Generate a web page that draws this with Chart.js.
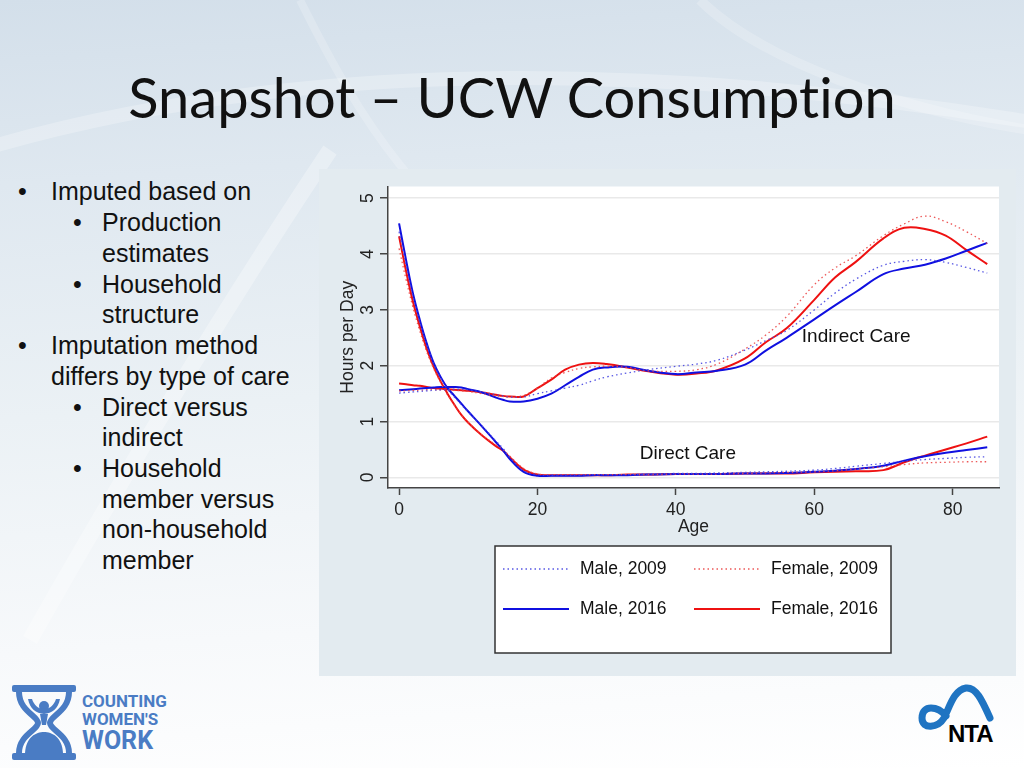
<!DOCTYPE html>
<html>
<head>
<meta charset="utf-8">
<script src="https://cdn.jsdelivr.net/npm/chart.js@4.4.0/dist/chart.umd.min.js"></script>
<style>
  html, body { margin: 0; padding: 0; }
  body {
    width: 1024px; height: 768px; position: relative; overflow: hidden;
    font-family: "Liberation Sans", Arial, sans-serif;
    background: linear-gradient(176deg, #d3dfea 0%, #dfe8f0 22%, #ebf1f5 50%, #f7f9fb 78%, #ffffff 100%);
  }
  #deco { position: absolute; left: 0; top: 0; }
  #title {
    position: absolute; left: 0; top: 63px; width: 1024px; text-align: center;
    font-family: Lato, "Open Sans", sans-serif; font-size: 56px; color: #111;
    line-height: 68px; font-variant-ligatures: none;
  }
  .ln { position: absolute; font-size: 25px; line-height: 31px; color: #111; white-space: nowrap; }
  .b { position: absolute; font-size: 25px; line-height: 31px; color: #111; }
  #panel { position: absolute; left: 319px; top: 169px; width: 697px; height: 507px; background: #e3ebf0; }
  #cww { position: absolute; left: 12px; top: 685px; }
  #cwwText {
    position: absolute; left: 82px; top: 692px; color: #4a7cc4; font-weight: bold;
    font-family: "Liberation Sans Narrow", "Roboto", sans-serif; line-height: 18px; font-size: 17px;
  }
  #nta { position: absolute; left: 916px; top: 682px; }
</style>
</head>
<body>
<svg id="deco" width="1024" height="768">
  <path d="M-20 150 C 250 70, 600 50, 1050 125" stroke="rgba(255,255,255,0.25)" stroke-width="14" fill="none"/>
  <path d="M300 0 C 360 120, 420 220, 560 300" stroke="rgba(255,255,255,0.2)" stroke-width="8" fill="none"/>
  <path d="M30 640 C 120 480, 230 300, 330 150" stroke="rgba(255,255,255,0.3)" stroke-width="16" fill="none"/>
  <path d="M700 0 C 760 60, 900 110, 1030 130" stroke="rgba(255,255,255,0.2)" stroke-width="10" fill="none"/>
</svg>

<div id="title">Snapshot – UCW Consumption</div>

<div class="b" style="left:18px; top:176px;">•</div><div class="ln" style="left:51px; top:176px;">Imputed based on</div>
<div class="b" style="left:73px; top:207px;">•</div><div class="ln" style="left:102px; top:207px;">Production</div>
<div class="ln" style="left:102px; top:238px;">estimates</div>
<div class="b" style="left:73px; top:269px;">•</div><div class="ln" style="left:102px; top:269px;">Household</div>
<div class="ln" style="left:102px; top:299px;">structure</div>
<div class="b" style="left:18px; top:330px;">•</div><div class="ln" style="left:51px; top:330px;">Imputation method</div>
<div class="ln" style="left:51px; top:361px;">differs by type of care</div>
<div class="b" style="left:73px; top:392px;">•</div><div class="ln" style="left:102px; top:392px;">Direct versus</div>
<div class="ln" style="left:102px; top:422px;">indirect</div>
<div class="b" style="left:73px; top:453px;">•</div><div class="ln" style="left:102px; top:453px;">Household</div>
<div class="ln" style="left:102px; top:484px;">member versus</div>
<div class="ln" style="left:102px; top:514px;">non-household</div>
<div class="ln" style="left:102px; top:545px;">member</div>

<div id="panel"><canvas id="ucw-chart" width="697" height="507"></canvas></div>

<svg id="cww" width="66" height="76" viewBox="0 0 66 76">
  <rect x="0" y="0" width="64" height="7" rx="2" fill="#4a7cc4"/>
  <rect x="0" y="68" width="64" height="7" rx="2" fill="#4a7cc4"/>
  <path d="M7 7 C7 26, 26 31, 26 38 C26 45, 7 50, 7 68" stroke="#4a7cc4" stroke-width="6" fill="none"/>
  <path d="M57 7 C57 26, 38 31, 38 38 C38 45, 57 50, 57 68" stroke="#4a7cc4" stroke-width="6" fill="none"/>
  <path d="M13 68 C14 52, 24 47, 32 47 C40 47, 50 52, 51 68 Z" fill="#4a7cc4"/>
  <circle cx="32" cy="21" r="5" fill="#4a7cc4"/>
  <path d="M16 14 C18 24, 24 28, 32 29 C40 28, 46 24, 48 14 L44 14 C42 20, 38 24, 32 24 C26 24, 22 20, 20 14 Z" fill="#4a7cc4"/>
  <path d="M28 29 L36 29 L34 40 L30 40 Z" fill="#4a7cc4"/>
</svg>
<div id="cwwText">COUNTING<br>WOMEN'S<br><span style="font-size:25px; line-height:26px;">WORK</span></div>

<svg id="nta" width="86" height="66" viewBox="0 0 86 66">
  <path d="M30 34 C22 24, 6 22, 6 36 C6 48, 22 46, 28 36 C34 24, 38 8, 50 6 C60 5, 66 18, 74 36"
        stroke="#1f74c2" stroke-width="7" fill="none" stroke-linecap="round"/>
  <text x="32" y="60" font-family="Liberation Sans, Arial" font-weight="bold" font-size="24" fill="#000" letter-spacing="-1">NTA</text>
</svg>

<script>
const ages = [0, 1, 2, 3, 4, 5, 6, 7, 8, 9, 10, 12, 14, 15, 16, 18, 20, 22, 24, 26, 28, 30, 33, 36, 40, 43, 46, 50, 53, 56, 60, 63, 66, 70, 73, 76, 79, 82, 85];

// direct care, hours per day
const maleDirect2009 = [4.4, 3.8, 3.25, 2.78, 2.38, 2.03, 1.78, 1.58, 1.44, 1.3, 1.17, 0.92, 0.65, 0.52, 0.36, 0.12, 0.05, 0.04, 0.04, 0.04, 0.05, 0.05, 0.05, 0.06, 0.07, 0.07, 0.08, 0.09, 0.1, 0.11, 0.13, 0.16, 0.2, 0.25, 0.29, 0.32, 0.34, 0.36, 0.37];
const femaleDirect2009 = [4.1, 3.55, 3.05, 2.62, 2.25, 1.95, 1.7, 1.48, 1.29, 1.12, 0.98, 0.76, 0.58, 0.5, 0.38, 0.16, 0.06, 0.05, 0.05, 0.05, 0.05, 0.05, 0.05, 0.05, 0.06, 0.06, 0.06, 0.07, 0.08, 0.09, 0.1, 0.12, 0.15, 0.19, 0.23, 0.26, 0.27, 0.28, 0.28];
const maleDirect2016 = [4.55, 3.9, 3.3, 2.82, 2.4, 2.05, 1.8, 1.6, 1.46, 1.32, 1.18, 0.91, 0.63, 0.49, 0.33, 0.1, 0.03, 0.03, 0.03, 0.03, 0.04, 0.04, 0.04, 0.05, 0.06, 0.06, 0.06, 0.07, 0.07, 0.08, 0.1, 0.12, 0.15, 0.21, 0.3, 0.38, 0.44, 0.49, 0.54];
const femaleDirect2016 = [4.32, 3.7, 3.15, 2.7, 2.3, 1.98, 1.72, 1.5, 1.3, 1.12, 0.98, 0.75, 0.56, 0.48, 0.36, 0.14, 0.05, 0.04, 0.04, 0.04, 0.04, 0.04, 0.05, 0.05, 0.06, 0.06, 0.06, 0.07, 0.07, 0.07, 0.09, 0.1, 0.11, 0.13, 0.27, 0.39, 0.5, 0.61, 0.73];

// indirect care, hours per day
const maleIndirect2009 = [1.51, 1.52, 1.53, 1.54, 1.55, 1.56, 1.57, 1.57, 1.58, 1.58, 1.57, 1.53, 1.48, 1.46, 1.44, 1.44, 1.5, 1.55, 1.6, 1.65, 1.73, 1.8, 1.87, 1.93, 1.99, 2.03, 2.1, 2.28, 2.45, 2.63, 3.0, 3.3, 3.55, 3.8, 3.87, 3.9, 3.85, 3.76, 3.66];
const femaleIndirect2009 = [1.55, 1.55, 1.56, 1.56, 1.57, 1.57, 1.57, 1.57, 1.56, 1.55, 1.54, 1.5, 1.46, 1.45, 1.44, 1.47, 1.6, 1.78, 1.88, 1.95, 1.98, 1.99, 1.97, 1.91, 1.9, 1.93, 2.03, 2.3, 2.55, 2.88, 3.45, 3.75, 3.97, 4.33, 4.54, 4.68, 4.58, 4.4, 4.19];
const maleIndirect2016 = [1.56, 1.57, 1.58, 1.59, 1.6, 1.61, 1.62, 1.62, 1.62, 1.61, 1.58, 1.52, 1.43, 1.39, 1.36, 1.36, 1.41, 1.5, 1.65, 1.8, 1.93, 1.97, 1.98, 1.91, 1.85, 1.88, 1.91, 2.02, 2.27, 2.5, 2.83, 3.08, 3.32, 3.64, 3.74, 3.81, 3.92, 4.06, 4.2];
const femaleIndirect2016 = [1.68, 1.67, 1.65, 1.64, 1.62, 1.6, 1.59, 1.58, 1.57, 1.56, 1.55, 1.52, 1.48, 1.46, 1.45, 1.45, 1.6, 1.75, 1.93, 2.02, 2.05, 2.03, 1.97, 1.9, 1.84, 1.86, 1.92, 2.13, 2.42, 2.67, 3.18, 3.58, 3.86, 4.28, 4.47, 4.45, 4.33, 4.07, 3.82];

const xTicks = [0, 20, 40, 60, 80];
const yTicks = [0, 1, 2, 3, 4, 5];

const seriesNames = ['Male, 2009', 'Female, 2009', 'Male, 2016', 'Female, 2016'];
const careLabels = ['Indirect Care', 'Direct Care'];
const careLabelAge = [58.2, 34.8];
const careLabelHours = [2.51, 0.42];

const FONT = '"Liberation Sans", Arial, sans-serif';

const lineStyle = {
    'Male, 2009': { color: 'rgba(70, 70, 225, 0.9)', width: 1.3, dash: [1.5, 3] },
    'Female, 2009': { color: 'rgba(235, 70, 70, 0.9)', width: 1.3, dash: [1.5, 3] },
    'Male, 2016': { color: '#1010e0', width: 2, dash: [] },
    'Female, 2016': { color: '#ee1111', width: 2, dash: [] }
};

function toPoints(values) {
    return ages.map((a, i) => ({ x: a, y: values[i] }));
}

function makeDataset(name, values) {
    const s = lineStyle[name];
    return {
        label: name,
        data: toPoints(values),
        borderColor: s.color,
        backgroundColor: s.color,
        borderWidth: s.width,
        borderDash: s.dash,
        pointRadius: 0,
        tension: 0.4,
        fill: false
    };
}

const datasets = [
    makeDataset('Male, 2009', maleDirect2009),
    makeDataset('Male, 2009', maleIndirect2009),
    makeDataset('Female, 2009', femaleDirect2009),
    makeDataset('Female, 2009', femaleIndirect2009),
    makeDataset('Male, 2016', maleDirect2016),
    makeDataset('Male, 2016', maleIndirect2016),
    makeDataset('Female, 2016', femaleDirect2016),
    makeDataset('Female, 2016', femaleIndirect2016)
];

// white plot region
const plotBackground = {
    id: 'plotBackground',
    beforeDraw(chart) {
        const { ctx, chartArea } = chart;
        ctx.save();
        ctx.fillStyle = '#ffffff';
        ctx.fillRect(chartArea.left, chartArea.top, chartArea.width, chartArea.height);
        ctx.restore();
    }
};

// "Indirect Care" / "Direct Care" labels placed in data units
const careText = {
    id: 'careText',
    afterDatasetsDraw(chart) {
        const { ctx, scales } = chart;
        ctx.save();
        ctx.font = '19px ' + FONT;
        ctx.fillStyle = '#111';
        ctx.textAlign = 'left';
        ctx.textBaseline = 'middle';
        careLabels.forEach((text, i) => {
            ctx.fillText(text, scales.x.getPixelForValue(careLabelAge[i]), scales.y.getPixelForValue(careLabelHours[i]));
        });
        ctx.restore();
    }
};

// boxed two-column legend under the plot, like the Stata one
const boxLegend = {
    id: 'boxLegend',
    afterDraw(chart) {
        const { ctx } = chart;
        const box = { left: 176, top: 377, width: 396, height: 107 };
        const rows = [400, 440];
        const cols = [{ line: 184, text: 261 }, { line: 375, text: 452 }];
        ctx.save();
        ctx.fillStyle = '#ffffff';
        ctx.fillRect(box.left, box.top, box.width, box.height);
        ctx.strokeStyle = '#333';
        ctx.lineWidth = 1.5;
        ctx.strokeRect(box.left, box.top, box.width, box.height);
        ctx.font = '17.5px ' + FONT;
        ctx.textBaseline = 'middle';
        ctx.textAlign = 'left';
        seriesNames.forEach((name, i) => {
            const ds = chart.data.datasets.find(d => d.label === name);
            const r = rows[Math.floor(i / 2)];
            const c = cols[i % 2];
            ctx.strokeStyle = ds.borderColor;
            ctx.lineWidth = ds.borderWidth;
            ctx.setLineDash(ds.borderDash);
            ctx.beginPath();
            ctx.moveTo(c.line, r);
            ctx.lineTo(c.line + 66, r);
            ctx.stroke();
            ctx.setLineDash([]);
            ctx.fillStyle = '#111';
            ctx.fillText(name, c.text, r);
        });
        ctx.restore();
    }
};

const ctx = document.getElementById('ucw-chart').getContext('2d');
const ucwChart = new Chart(ctx, {
    type: 'line',
    data: { datasets: datasets },
    plugins: [plotBackground, careText, boxLegend],
    options: {
        responsive: false,
        animation: false,
        layout: { padding: { left: 0, top: 17, right: 17, bottom: 138 } },
        plugins: {
            legend: { display: false },
            tooltip: { enabled: false }
        },
        scales: {
            x: {
                type: 'linear',
                min: -1.6,
                max: 86.7,
                afterBuildTicks: (scale) => { scale.ticks = xTicks.map(v => ({ value: v })); },
                afterFit: (scale) => { scale.height = 50; },
                grid: { drawOnChartArea: false, drawTicks: true, tickLength: 7, tickColor: '#444', tickWidth: 1.5 },
                border: { color: '#444', width: 1.5 },
                ticks: { color: '#222', font: { family: FONT, size: 17.5 }, padding: 5, maxRotation: 0 },
                title: { display: true, text: 'Age', color: '#222', font: { family: FONT, size: 17.5 }, padding: { top: 0, bottom: 0.5 } }
            },
            y: {
                min: -0.19,
                max: 5.21,
                afterBuildTicks: (scale) => { scale.ticks = yTicks.map(v => ({ value: v })); },
                afterFit: (scale) => { scale.width = 69; },
                grid: { color: '#e9e9e9', lineWidth: 1.5, tickColor: '#444', tickLength: 8, tickWidth: 1.5 },
                border: { color: '#444', width: 1.5 },
                ticks: { color: '#222', font: { family: FONT, size: 17.5 }, minRotation: 90, maxRotation: 90, crossAlign: 'center', padding: 7 },
                title: { display: true, text: 'Hours per Day', color: '#222', font: { family: FONT, size: 17.5 }, padding: { top: 18.5, bottom: 0 } }
            }
        }
    }
});
</script>
</body>
</html>
